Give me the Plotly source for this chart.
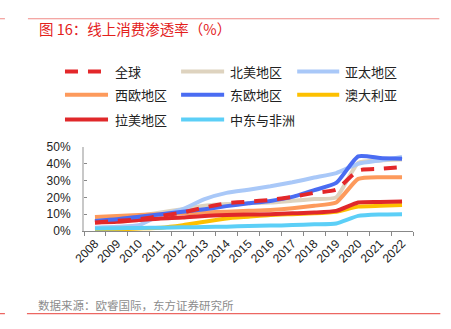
import plotly.graph_objects as go

years = [str(y) for y in range(2008, 2023)]
names = ["全球", "北美地区", "亚太地区", "西欧地区", "东欧地区", "澳大利亚", "拉美地区", "中东与非洲"]
global_v = [5, 6, 7, 9, 11, 14, 16.5, 17.5, 18.5, 20.3, 22.7, 24.6, 36, 37, 38]
na_v = [6, 7.5, 9, 11, 13, 15, 16, 16.5, 17, 18, 19, 20, 40.5, 42, 42.5]
apac_v = [2, 2.5, 3.5, 9.5, 13, 19, 22.7, 24.6, 26.6, 29, 31.8, 34.5, 40, 42, 44]
we_v = [8.3, 9, 9.5, 10, 10.5, 11, 11.5, 12, 12.5, 13.5, 15, 17, 31, 32, 32]
ee_v = [6, 7, 8.5, 10, 11.5, 13, 14.8, 16.5, 17.9, 20.3, 24.3, 28.6, 44.4, 43.5, 43]
au_v = [0.5, 1, 1.5, 2, 3.5, 5.5, 7.5, 8.5, 9.5, 10, 10.5, 11.5, 14.5, 15, 15.5]
la_v = [5, 5.5, 6.5, 7.5, 8, 9, 9.5, 9.8, 10, 10.5, 11, 12, 17, 17.3, 17.5]
mea_v = [1.5, 1.7, 1.8, 2, 2.2, 2.4, 2.6, 3, 3.2, 3.5, 4, 4.5, 9, 9.8, 10]
series = [global_v, na_v, apac_v, we_v, ee_v, au_v, la_v, mea_v]
colors = ["#e3272a", "#ded3bf", "#a9c8f8", "#fd9a5c", "#4a6cf2", "#fdc000", "#e0282a", "#5ccff7"]
dashes = ["13px,10px", "solid", "solid", "solid", "solid", "solid", "solid", "solid"]
yticks = [0, 10, 20, 30, 40, 50]

fig = go.Figure()
order = [1, 2, 3, 5, 6, 7, 4, 0]
for i in order:
    fig.add_trace(go.Scatter(x=years, y=series[i], name=names[i], mode="lines",
                             line=dict(color=colors[i], width=4, dash=dashes[i],
                                       shape="spline", smoothing=0.5),
                             showlegend=False))

W, H = 451, 329
L, R, T, B = 84, 412.7, 146.7, 231

def px(x):
    return (x - L) / (R - L)

def py(y):
    return (B - y) / (B - T)

shapes = []
annotations = []
cols_sample = [(65, 108, 113), (181, 224, 228), (297, 339, 343)]
rows_y = [71, 94.3, 119]
for k, nm in enumerate(names):
    r, c = divmod(k, 3)
    x0, x1, xt = cols_sample[c]
    yy = rows_y[r]
    shapes.append(dict(type="line", xref="paper", yref="paper", x0=px(x0), x1=px(x1),
                       y0=py(yy), y1=py(yy),
                       line=dict(color=colors[k], width=4, dash=dashes[k])))
    annotations.append(dict(text=nm, xref="paper", yref="paper", x=px(xt), y=py(yy),
                            xanchor="left", yanchor="middle", showarrow=False,
                            font=dict(size=13, color="#222", family="Noto Sans CJK SC")))

# header / footer rules
shapes += [
    dict(type="line", xref="paper", yref="paper", x0=px(28), x1=px(439), y0=py(18), y1=py(18),
         line=dict(color="#f08a86", width=1)),
    dict(type="line", xref="paper", yref="paper", x0=px(0), x1=px(5), y0=py(18), y1=py(18),
         line=dict(color="#f08a86", width=1)),
    dict(type="line", xref="paper", yref="paper", x0=px(27), x1=px(440), y0=py(314), y1=py(314),
         line=dict(color="#e8403a", width=1)),
    dict(type="line", xref="paper", yref="paper", x0=px(0), x1=px(5), y0=py(314), y1=py(314),
         line=dict(color="#e8403a", width=1)),
]
annotations += [
    dict(text="图 16：线上消费渗透率（%）", xref="paper", yref="paper", x=px(37), y=py(28),
         xanchor="left", yanchor="middle", showarrow=False,
         font=dict(size=14.5, color="#e3201b", family="Noto Sans CJK SC")),
    dict(text="数据来源：欧睿国际，东方证券研究所", xref="paper", yref="paper", x=px(36), y=py(305),
         xanchor="left", yanchor="middle", showarrow=False,
         font=dict(size=11.5, color="#8c8c8c", family="Noto Sans CJK SC")),
]

fig.update_layout(
    width=W, height=H, margin=dict(l=L, r=W - R, t=T, b=H - B, pad=0),
    paper_bgcolor="white", plot_bgcolor="white",
    shapes=shapes, annotations=annotations, showlegend=False,
    font=dict(family="Liberation Sans, Arial", color="#222"),
    xaxis=dict(type="category", tickangle=-45, tickson="boundaries", ticks="outside",
               ticklen=4, tickcolor="#888", showline=True, linecolor="#888", linewidth=1,
               showgrid=False, tickfont=dict(size=12, color="#222"), range=[-0.5, 14.5]),
    yaxis=dict(range=[0, 50], tickvals=yticks, ticktext=[f"{v}%" for v in yticks],
               ticks="inside", ticklen=3, tickcolor="#888", showline=True,
               linecolor="#c8c8c8", linewidth=2, showgrid=False, zeroline=False,
               tickfont=dict(size=12, color="#222"), ticklabelstandoff=9),
)
fig.write_html("out.html")
